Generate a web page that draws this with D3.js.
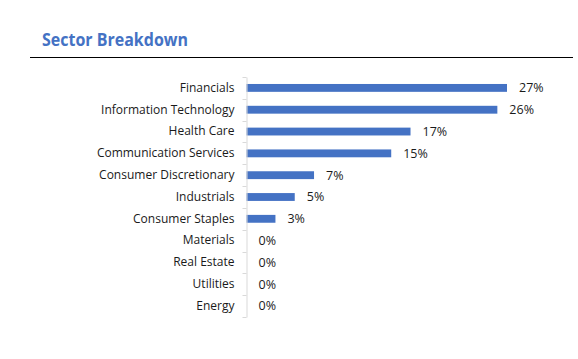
<!DOCTYPE html>
<html><head><meta charset="utf-8">
<script src="https://cdn.jsdelivr.net/npm/d3@7/dist/d3.min.js"></script>
<style>body{margin:0;background:#fff;} svg{display:block;}</style>
</head><body>
<script>
const categories = ["Financials","Information Technology","Health Care","Communication Services","Consumer Discretionary","Industrials","Consumer Staples","Materials","Real Estate","Utilities","Energy"];
const values = [27,26,17,15,7,5,3,0,0,0,0];
const valueLabels = ["27%","26%","17%","15%","7%","5%","3%","0%","0%","0%","0%"];
const title = "Sector Breakdown";

const W = 578, H = 359;
const svg = d3.select("body").append("svg").attr("width", W).attr("height", H);
const font = "'Open Sans', sans-serif";

svg.append("text").attr("x", 42).attr("y", 45.5).text(title)
  .attr("font-family", font).attr("font-weight", "bold").attr("font-size", 17)
  .attr("fill", "#4472C4").attr("textLength", 146).attr("lengthAdjust", "spacingAndGlyphs");
svg.append("line").attr("x1", 30).attr("x2", 573).attr("y1", 57.5).attr("y2", 57.5)
  .attr("stroke", "#000").attr("stroke-width", 1);

const x0 = 246.5;
const x = d3.scaleLinear().domain([0, 27]).range([x0, 507]);
const y = d3.scaleBand().domain(categories).range([77, 317]).paddingInner(0.64).paddingOuter(0.32);

const g = svg.append("g");
g.selectAll("rect.bar").data(values).join("rect")
  .attr("x", x0).attr("y", (d,i) => y(categories[i]))
  .attr("width", d => x(d) - x0).attr("height", y.bandwidth())
  .attr("fill", "#4472C4");

const yAxis = d3.axisLeft(y).tickSize(0).tickPadding(12);
const ag = svg.append("g").attr("transform", `translate(${x0},0)`).call(yAxis);
ag.select(".domain").attr("stroke", "#d9d9d9");
ag.selectAll("text").attr("font-family", font).attr("font-size", 12).attr("fill", "#1a1a1a");
const bounds = d3.range(categories.length + 1).map(i => 77 + i * (240 / categories.length));
svg.selectAll("line.tk").data(bounds).join("line")
  .attr("x1", x0 - 4).attr("x2", x0).attr("y1", d => Math.round(d) + 0.5).attr("y2", d => Math.round(d) + 0.5)
  .attr("stroke", "#d9d9d9");

g.selectAll("text.val").data(values).join("text")
  .attr("x", d => x(d) + 12).attr("y", (d,i) => y(categories[i]) + y.bandwidth()/2)
  .attr("dy", "0.35em").text((d,i) => valueLabels[i])
  .attr("font-family", font).attr("font-size", 12.5).attr("fill", "#1a1a1a");
</script>
</body></html>
